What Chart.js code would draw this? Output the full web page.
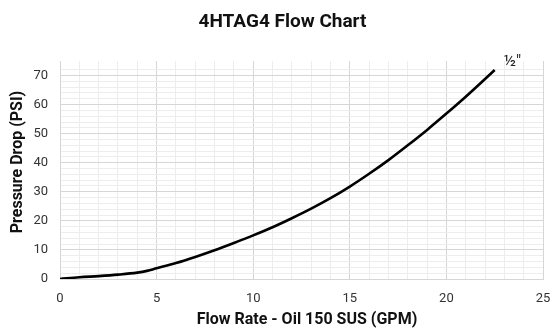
<!DOCTYPE html>
<html>
<head>
<meta charset="utf-8">
<script src="https://cdn.jsdelivr.net/npm/chart.js@4/dist/chart.umd.min.js"></script>
<style>
  html, body { margin: 0; padding: 0; background: #fff; }
  #wrap { width: 553px; height: 328px; }
</style>
</head>
<body>
<div id="wrap"><canvas id="c" width="553" height="328"></canvas></div>
<script>
// Flow rate (GPM) and pressure drop (PSI) for the 1/2" size
const flowRate = [0, 1, 2, 3, 4, 4.5, 5, 6, 7, 8, 9, 10, 11, 12, 13, 14, 15, 16, 17, 18, 19, 20, 21, 22, 22.5];
const pressureDrop = [0, 0.6, 1.0, 1.5, 2.2, 2.8, 3.7, 5.5, 7.6, 9.9, 12.4, 15.0, 17.8, 20.9, 24.2, 27.8, 31.8, 36.2, 40.9, 46.0, 51.3, 56.9, 62.7, 68.8, 71.9];
const seriesLabel = '½″';
const chartTitle = '4HTAG4 Flow Chart';
const xTitle = 'Flow Rate - Oil 150 SUS (GPM)';
const yTitle = 'Pressure Drop (PSI)';
const xTickLabels = [0, 5, 10, 15, 20, 25];
const yTickLabels = [0, 10, 20, 30, 40, 50, 60, 70];

const FONT = 'Roboto, "Liberation Sans", sans-serif';
const MAJOR = '#d6d6d6';
const MINOR = '#ededed';

// Titles and the series tag at the end of the curve
const textPlugin = {
  id: 'texts',
  afterDraw(chart) {
    const { ctx, scales } = chart;
    ctx.save();
    ctx.fillStyle = '#111';
    ctx.textAlign = 'center';
    ctx.textBaseline = 'middle';
    ctx.font = 'bold 19px ' + FONT;
    ctx.fillText(chartTitle, 282.5, 22.5);
    ctx.font = 'bold 16px ' + FONT;
    ctx.fillText(xTitle, 307, 320);
    ctx.save();
    ctx.translate(17.5, 162);
    ctx.rotate(-Math.PI / 2);
    ctx.fillText(yTitle, 0, 0);
    ctx.restore();
    const n = flowRate.length - 1;
    const px = scales.x.getPixelForValue(flowRate[n]);
    const py = scales.y.getPixelForValue(pressureDrop[n]);
    ctx.font = '16px ' + FONT;
    ctx.textAlign = 'left';
    ctx.fillStyle = '#222';
    ctx.fillText(seriesLabel, px + 9, py - 8);
    ctx.restore();
  }
};

new Chart(document.getElementById('c'), {
  type: 'line',
  data: {
    datasets: [{
      label: seriesLabel,
      data: flowRate.map((x, i) => ({ x, y: pressureDrop[i] })),
      borderColor: '#000',
      borderWidth: 2.6,
      pointRadius: 0,
      fill: false,
      cubicInterpolationMode: 'monotone'
    }]
  },
  options: {
    responsive: false,
    animation: false,
    events: [],
    layout: { padding: { top: 61, right: 10, bottom: 0, left: 0 } },
    plugins: { legend: { display: false }, title: { display: false }, tooltip: { enabled: false } },
    scales: {
      x: {
        type: 'linear',
        min: 0, max: 25,
        afterFit(s) { s.height = 49; s.paddingLeft = 0; s.paddingRight = 0; },
        ticks: {
          stepSize: 1, autoSkip: false, maxRotation: 0, padding: 12,
          color: '#333', font: { family: FONT, size: 13 },
          callback: v => xTickLabels.includes(v) ? String(v) : ''
        },
        grid: {
          drawTicks: false,
          color: c => (c.tick && c.tick.value % 5 === 0) ? MAJOR : MINOR,
          lineWidth: 1
        },
        border: { display: true, color: MAJOR }
      },
      y: {
        min: 0, max: 75,
        afterFit(s) { s.width = 60; s.paddingTop = 0; s.paddingBottom = 0; },
        ticks: {
          stepSize: 2, autoSkip: false, padding: 12,
          color: '#333', font: { family: FONT, size: 13 },
          callback: v => yTickLabels.includes(v) ? String(v) : ''
        },
        grid: {
          drawTicks: false,
          color: c => {
            const v = c.tick ? c.tick.value : 0;
            if (v > 74) return 'rgba(0,0,0,0)';
            return v % 10 === 0 ? MAJOR : MINOR;
          },
          lineWidth: 1
        },
        border: { display: true, color: MAJOR }
      }
    }
  },
  plugins: [textPlugin]
});
</script>
</body>
</html>
